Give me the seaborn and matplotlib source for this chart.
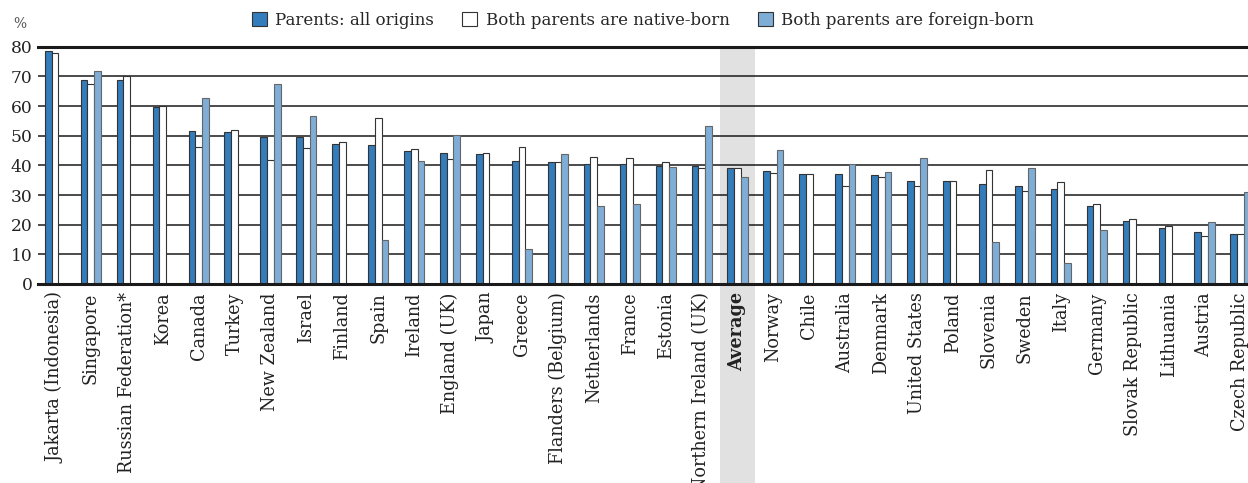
import pandas as pd
import matplotlib
matplotlib.use("Agg")
import matplotlib.pyplot as plt
import seaborn as sns
import numpy as np

nan = np.nan

countries = ["Jakarta (Indonesia)", "Singapore", "Russian Federation*", "Korea", "Canada",
             "Turkey", "New Zealand", "Israel", "Finland", "Spain", "Ireland", "England (UK)",
             "Japan", "Greece", "Flanders (Belgium)", "Netherlands", "France", "Estonia",
             "Northern Ireland (UK)", "Average", "Norway", "Chile", "Australia", "Denmark",
             "United States", "Poland", "Slovenia", "Sweden", "Italy", "Germany",
             "Slovak Republic", "Lithuania", "Austria", "Czech Republic"]

all_origins = [78.4, 68.9, 68.8, 59.7, 51.6, 51.1, 49.7, 49.7, 47.1, 46.7, 44.8, 44.3,
               43.9, 41.6, 41.2, 40.4, 40.4, 39.9, 39.7, 39.0, 38.2, 37.2, 37.1, 36.6,
               34.6, 34.6, 33.7, 32.9, 31.9, 26.2, 21.2, 18.8, 17.4, 16.7]
native_born = [77.8, 67.4, 70.2, 60.1, 46.1, 51.9, 41.7, 45.8, 47.8, 56.1, 45.5, 42.0,
               44.2, 46.1, 41.2, 42.9, 42.4, 41.2, 39.1, 39.0, 37.5, 37.0, 33.1, 36.1,
               33.1, 34.6, 38.3, 31.2, 34.5, 26.9, 21.8, 19.4, 16.3, 16.7]
foreign_born = [nan, 71.8, nan, nan, 62.6, nan, 67.3, 56.7, nan, 14.9, 41.6, 50.4,
                nan, 11.7, 43.7, 26.2, 26.9, 39.3, 53.3, 36.0, 45.1, nan, 40.6, 37.6,
                42.4, nan, 14.3, 39.0, 7.0, 18.2, nan, nan, 20.8, 30.9]

series = ["Parents: all origins", "Both parents are native-born", "Both parents are foreign-born"]
colors = ["#347dbd", "#ffffff", "#7eadd6"]

df = pd.DataFrame({"country": countries,
                   series[0]: all_origins,
                   series[1]: native_born,
                   series[2]: foreign_born})
long_df = df.melt(id_vars="country", var_name="group", value_name="pct").dropna()

sns.set_theme(style="white")
plt.rcParams["font.family"] = ["DejaVu Serif"]

fig = plt.figure(figsize=(12.48, 4.83), dpi=100)
ax = fig.add_axes([38 / 1248, 1 - 284 / 483, 1 - 38 / 1248, (284 - 46.7) / 483])

sns.barplot(data=long_df, x="country", y="pct", hue="group", order=countries,
            hue_order=series, palette=dict(zip(series, colors)), width=0.56,
            saturation=1, edgecolor="#333333", linewidth=0.8, ax=ax, legend=True, zorder=2)

# lighter outline on the foreign-born bars
for bar in ax.containers[2]:
    bar.set_edgecolor("#666666")

# grey band behind the average, running down through the labels
avg = countries.index("Average")
ax.axvspan(avg - 0.5, avg + 0.5, ymin=-0.84, ymax=1, color="#e1e1e1",
           zorder=0, clip_on=False, lw=0)

ax.set_ylim(0, 80)
ax.set_xlim(-0.47, len(countries) - 1 + 0.21)
ax.set_yticks(range(0, 81, 10))
ax.set_axisbelow(True)
ax.yaxis.grid(True, color="#1a1a1a", lw=1.1)
ax.xaxis.grid(False)
for side in ["left", "right"]:
    ax.spines[side].set_visible(False)
for side in ["top", "bottom"]:
    ax.spines[side].set_color("#1a1a1a")
    ax.spines[side].set_linewidth(2.2)
ax.set_xlabel("")
ax.set_ylabel("")
ax.tick_params(axis="both", length=0, labelcolor="#222222")
ax.tick_params(axis="y", pad=4, labelsize=12.3)
ax.tick_params(axis="x", pad=6, labelsize=12.7)
ax.set_xticks(range(len(countries)))
ax.set_xticklabels(countries, rotation=90, va="top", ha="center")
for lbl in ax.get_xticklabels():
    if lbl.get_text() == "Average":
        lbl.set_fontweight("bold")

handles, labels = ax.get_legend_handles_labels()
for h in handles:
    h.set_edgecolor("#333333")
ax.legend(handles, labels, loc="center", bbox_to_anchor=(0.5, 1 + (46.7 - 20.5) / 237.3),
          ncol=3, frameon=False, fontsize=12, handlelength=0.9, handleheight=0.9,
          handletextpad=0.5, columnspacing=1.7, borderaxespad=0)

fig.text(20 / 1248, 1 - 24 / 483, "%", ha="center", va="center", fontsize=10, color="#555555")

fig.savefig("out.png", dpi=100)
